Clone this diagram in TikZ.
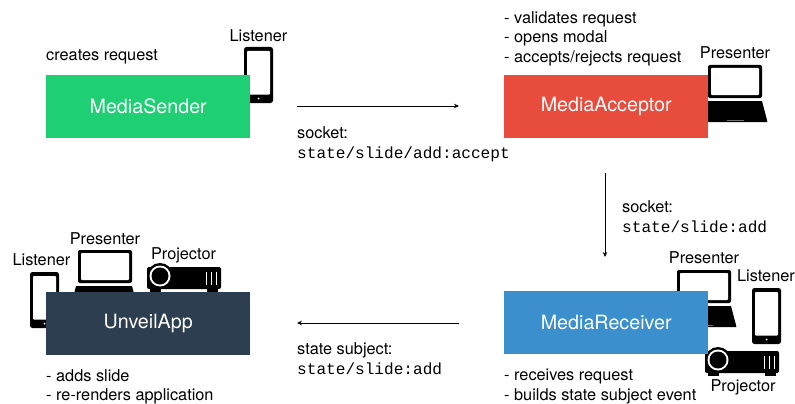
\documentclass[tikz,border=0pt]{standalone}
\usepackage{fontspec}
\setmainfont{TeX Gyre Heros}
\setmonofont{Liberation Mono}
\usetikzlibrary{arrows.meta}
\definecolor{cgreen}{HTML}{1FCF73}
\definecolor{cred}{HTML}{E74C3C}
\definecolor{cblue}{HTML}{3A8FCC}
\definecolor{cdark}{HTML}{2C3E50}
\tikzset{
  box/.style={anchor=north west,inner sep=0pt,text=white,font=\fontsize{19.7}{20}\selectfont,align=center},
  lab/.style={inner sep=0pt,font=\fontsize{16.3}{17}\selectfont},
  note/.style={anchor=north west,inner sep=0pt,align=left,font=\fontsize{16.3}{19.8}\selectfont},
  code/.style={anchor=north west,inner sep=0pt,align=left,font=\fontsize{16.3}{20}\selectfont},
  conn/.style={draw=black,line width=0.85pt,-{Stealth[length=5pt,width=4.5pt]}},
}
\newcommand{\mono}[1]{{\ttfamily\fontsize{16.1}{20}\selectfont #1}}
\newcommand{\phoneicon}[2]{
  \begin{scope}[shift={(#1,#2)}]
    \fill[black,rounded corners=2.5pt] (0,0) rectangle (29,56);
    \fill[white,rounded corners=0.8pt] (3,4) rectangle (26,47.5);
    \fill[white] (14.5,51.5) circle (1);
  \end{scope}}
\newcommand{\laptopicon}[2]{
  \begin{scope}[shift={(#1,#2)}]
    \fill[black,rounded corners=2pt] (0,0) rectangle (54,33);
    \fill[white,rounded corners=0.8pt] (3,3) rectangle (51,30);
    \fill[black,rounded corners=0.5pt] (-2,36) -- (54,36) -- (59.5,57) -- (-7,57) -- cycle;
    \fill[black!55] (19,54.5) rectangle (36,56);
  \end{scope}}
\newcommand{\projectoricon}[2]{
  \begin{scope}[shift={(#1,#2)}]
    \fill[black,rounded corners=2pt] (0,0) rectangle (74,22);
    \fill[black] (3,20) rectangle (14,25);
    \fill[black] (60,20) rectangle (71,25);
    \fill[black] (13,9) circle (13);
    \fill[white] (13,9) circle (10.5);
    \fill[black] (13,9) circle (8.5);
    \fill[white] (58.5,5) rectangle (60,18);
    \fill[white] (63.5,5) rectangle (65,18);
    \fill[white] (68.5,5) rectangle (70,18);
  \end{scope}}
\begin{document}
\begin{tikzpicture}[x=1pt,y=-1pt]
\useasboundingbox (0,0) rectangle (795,404);
\fill[white] (0,0) rectangle (795,404);

\phoneicon{244}{47}
\laptopicon{708}{65}
\phoneicon{30}{272}
\laptopicon{78}{250}
\projectoricon{147}{267}
\laptopicon{677}{270}
\phoneicon{752}{288}
\projectoricon{705}{351}

\node[box,fill=cgreen,minimum width=204pt,minimum height=63pt] (sender) at (46,75) {MediaSender};
\node[box,fill=cred,minimum width=204pt,minimum height=63pt] (acceptor) at (504,75) {MediaAcceptor};
\node[box,fill=cblue,minimum width=204pt,minimum height=63pt] (receiver) at (504,291) {MediaReceiver};
\node[box,fill=cdark,minimum width=204pt,minimum height=63pt] (unveil) at (46,292) {UnveilApp};

\node[lab] (l1) at (258.5,36) {Listener};
\node[lab] (p1) at (735,53) {Presenter};
\node[lab] (p2) at (105,239) {Presenter};
\node[lab] (pj2) at (183.5,255) {Projector};
\node[lab] (l2) at (41.5,260) {Listener};
\node[lab] (p3) at (704,258) {Presenter};
\node[lab] (l3) at (766,276) {Listener};
\node[lab] (pj3) at (743,387) {Projector};

\node[note] (n1) at (46,49) {creates request};
\node[note] (n2) at (504,11) {- validates request\\- opens modal\\- accepts/rejects request};
\node[note] (n3) at (504,369) {- receives request\\- builds state subject event};
\node[note] (n4) at (46,369) {- adds slide\\- re-renders application};

\node[code] (c1) at (297,126) {socket:\\\mono{state/slide/add:accept}};
\node[code] (c2) at (622,200) {socket:\\\mono{state/slide:add}};
\node[code] (c3) at (297,342) {state subject:\\\mono{state/slide:add}};

\coordinate (a1s) at (297,106);
\coordinate (a1e) at (459,106);
\coordinate (a2s) at (605,173);
\coordinate (a2e) at (605,257);
\coordinate (a3s) at (459,323);
\coordinate (a3e) at (297,323);
\draw[conn] (a1s) -- (a1e);
\draw[conn] (a2s) -- (a2e);
\draw[conn] (a3s) -- (a3e);
\end{tikzpicture}
\end{document}
